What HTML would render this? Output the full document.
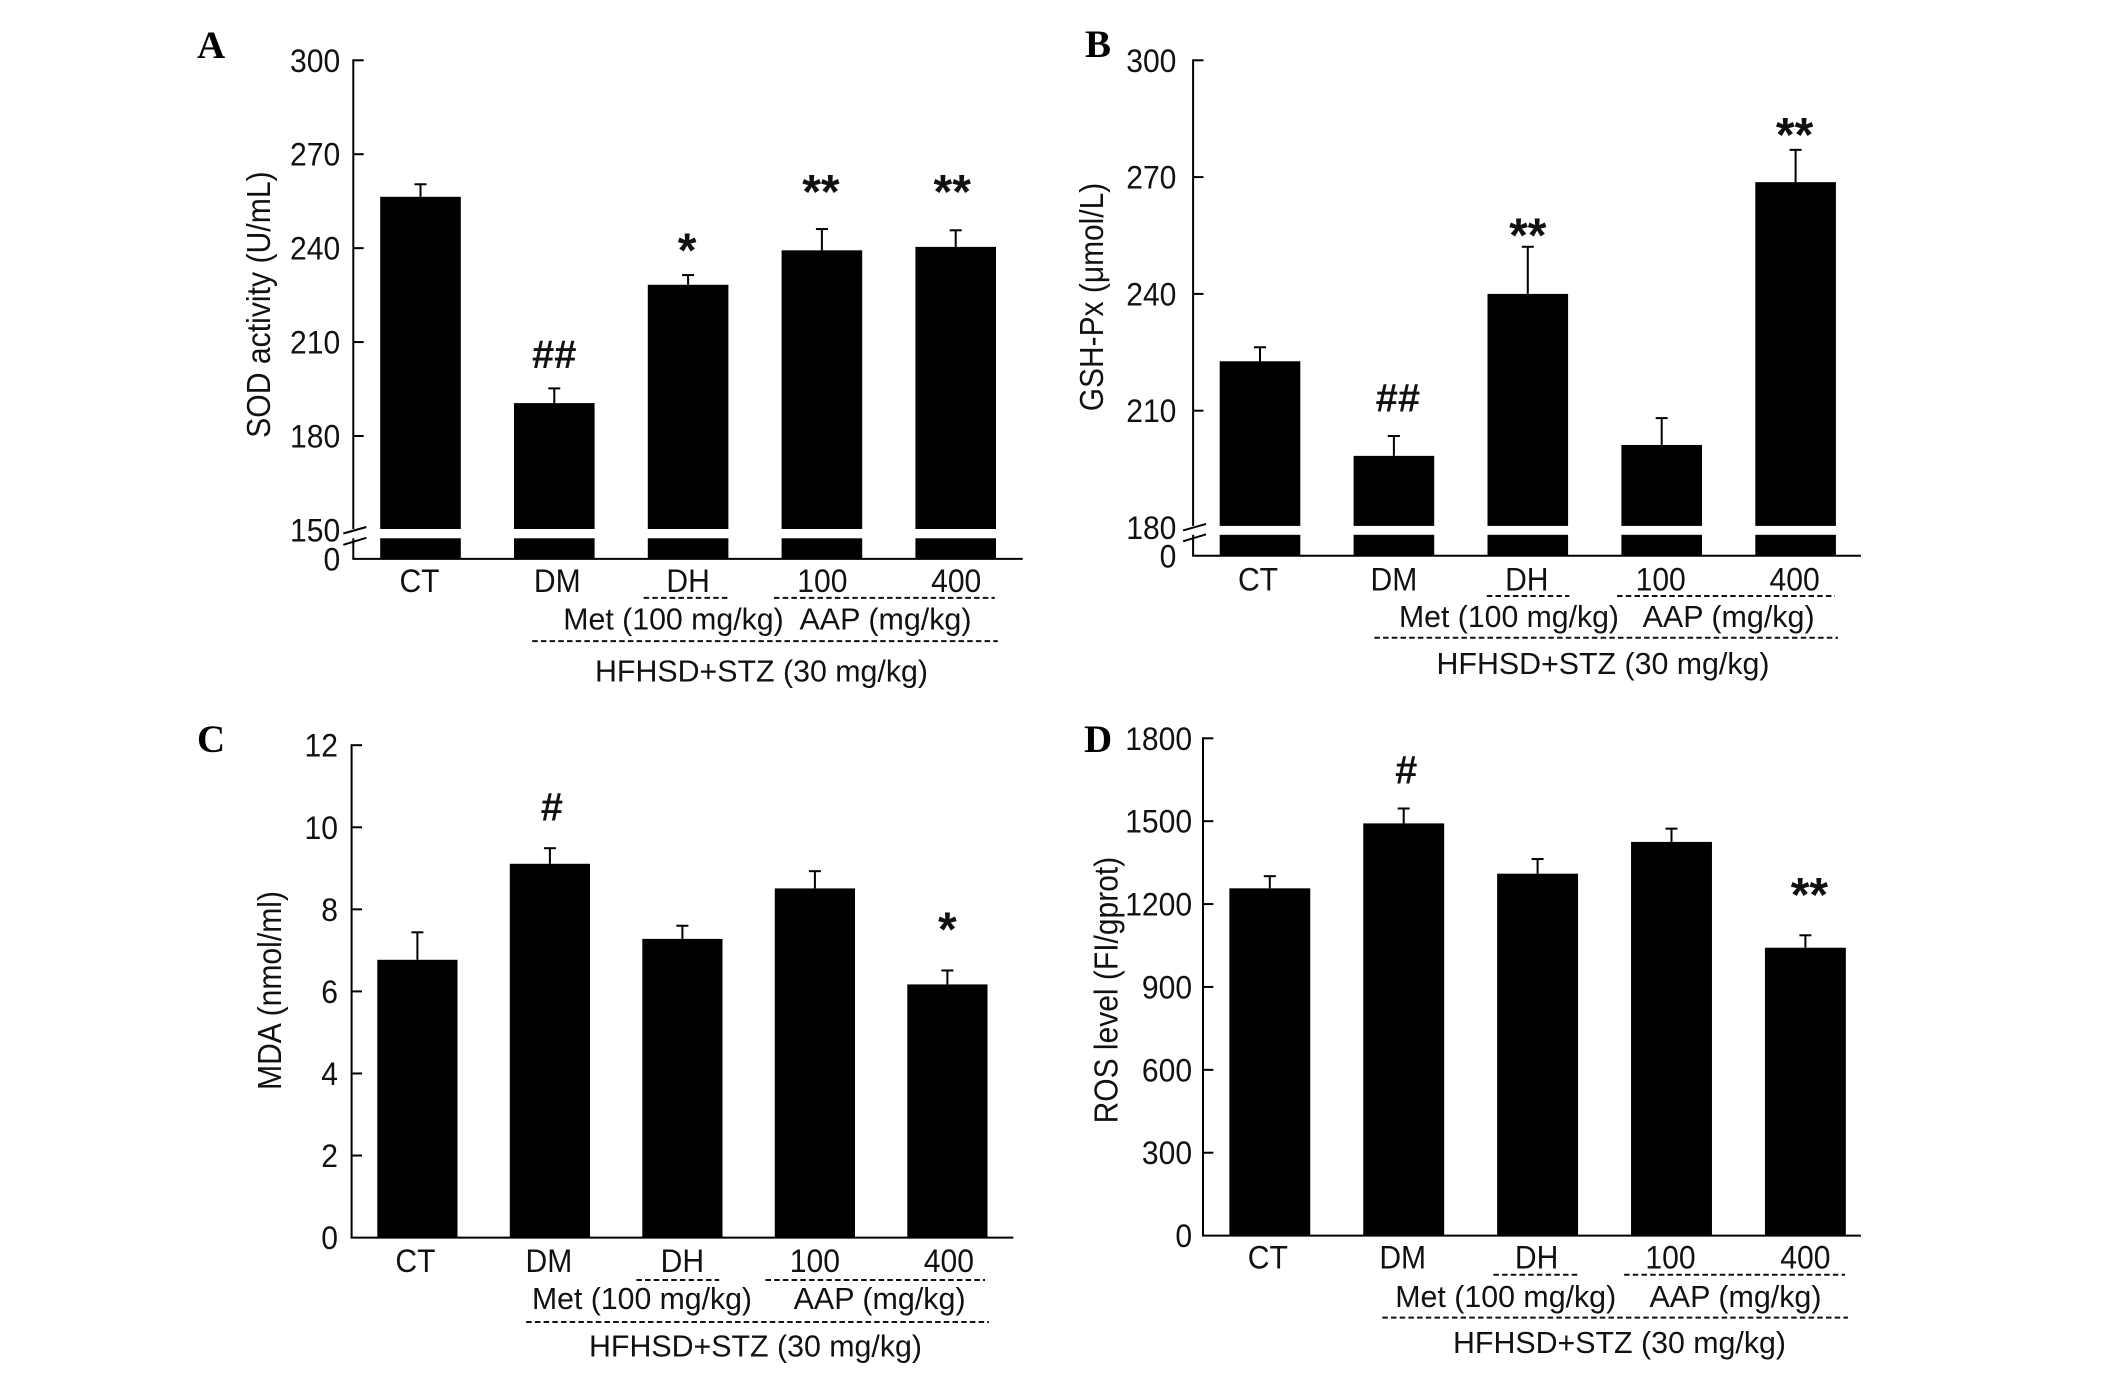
<!DOCTYPE html>
<html lang="en">
<head>
<meta charset="utf-8">
<title>Antioxidant markers bar charts</title>
<style>
html,body{margin:0;padding:0;background:#fff;}
svg{display:block;}
text{font-family:"Liberation Sans",sans-serif;fill:#111;}
.letter{font-family:"Liberation Serif",serif;font-weight:bold;font-size:39px;fill:#000;}
.title{font-size:33px;text-anchor:middle;}
.group{font-size:31px;text-anchor:middle;}
.dash{stroke:#111;stroke-width:2;stroke-dasharray:5.5 3.2;fill:none;}
</style>
</head>
<body>
<svg id="figure" width="2126" height="1374" viewBox="0 0 2126 1374" xmlns="http://www.w3.org/2000/svg">
  <rect width="2126" height="1374" fill="#fff"/>

  <g id="panel-a">
    <text class="letter" x="197" y="58">A</text>
    <text class="title" transform="translate(270 304.6) rotate(-90)" textLength="266.5" lengthAdjust="spacingAndGlyphs">SOD activity (U/mL)</text>
    <line class="dash" x1="643.6" x2="728.2" y1="597.9" y2="597.9"/>
    <line class="dash" x1="774" x2="994.8" y1="597.9" y2="597.9"/>
    <text class="group" x="673.5" y="629.5" textLength="220.5" lengthAdjust="spacingAndGlyphs">Met (100 mg/kg)</text>
    <text class="group" x="885.5" y="629.5" textLength="172" lengthAdjust="spacingAndGlyphs">AAP (mg/kg)</text>
    <line class="dash" x1="532.2" x2="997.8" y1="641.1" y2="641.1"/>
    <text class="group" x="761.5" y="681.5" textLength="333" lengthAdjust="spacingAndGlyphs">HFHSD+STZ (30 mg/kg)</text>
  </g>

  <g id="panel-b">
    <text class="letter" x="1085" y="57">B</text>
    <text class="title" transform="translate(1102.8 297) rotate(-90)" textLength="228.5" lengthAdjust="spacingAndGlyphs">GSH-Px (μmol/L)</text>
    <line class="dash" x1="1486.8" x2="1569.4" y1="596" y2="596"/>
    <line class="dash" x1="1617.1" x2="1835" y1="596" y2="596"/>
    <text class="group" x="1509" y="627.2" textLength="220" lengthAdjust="spacingAndGlyphs">Met (100 mg/kg)</text>
    <text class="group" x="1728.6" y="627.2" textLength="172" lengthAdjust="spacingAndGlyphs">AAP (mg/kg)</text>
    <line class="dash" x1="1374.4" x2="1838" y1="637.7" y2="637.7"/>
    <text class="group" x="1603" y="674" textLength="333" lengthAdjust="spacingAndGlyphs">HFHSD+STZ (30 mg/kg)</text>
  </g>

  <g id="panel-c">
    <text class="letter" x="197" y="752">C</text>
    <text class="title" transform="translate(281 990.5) rotate(-90)" textLength="199" lengthAdjust="spacingAndGlyphs">MDA (nmol/ml)</text>
    <line class="dash" x1="636.4" x2="719.2" y1="1280" y2="1280"/>
    <line class="dash" x1="765.5" x2="985" y1="1280" y2="1280"/>
    <text class="group" x="642" y="1309" textLength="220" lengthAdjust="spacingAndGlyphs">Met (100 mg/kg)</text>
    <text class="group" x="879.6" y="1309" textLength="172" lengthAdjust="spacingAndGlyphs">AAP (mg/kg)</text>
    <line class="dash" x1="526.2" x2="989" y1="1322" y2="1322"/>
    <text class="group" x="755.5" y="1356.6" textLength="333" lengthAdjust="spacingAndGlyphs">HFHSD+STZ (30 mg/kg)</text>
  </g>

  <g id="panel-d">
    <text class="letter" x="1084" y="752">D</text>
    <text class="title" transform="translate(1117.4 990.1) rotate(-90)" textLength="266.6" lengthAdjust="spacingAndGlyphs">ROS level (FI/gprot)</text>
    <line class="dash" x1="1493.4" x2="1578" y1="1274.7" y2="1274.7"/>
    <line class="dash" x1="1624.1" x2="1845" y1="1274.7" y2="1274.7"/>
    <text class="group" x="1505.7" y="1306.8" textLength="221" lengthAdjust="spacingAndGlyphs">Met (100 mg/kg)</text>
    <text class="group" x="1735.5" y="1306.8" textLength="172" lengthAdjust="spacingAndGlyphs">AAP (mg/kg)</text>
    <line class="dash" x1="1382.3" x2="1848" y1="1317.6" y2="1317.6"/>
    <text class="group" x="1619.5" y="1353.2" textLength="333" lengthAdjust="spacingAndGlyphs">HFHSD+STZ (30 mg/kg)</text>
  </g>
</svg>

<script>
// Chart data
const categories = ['CT', 'DM', 'DH', '100', '400'];

const sodValues = [256.4, 190.5, 228.3, 239.3, 240.4];
const sodErrorTops = [260.4, 195.2, 231.4, 246.1, 245.7];
const sodTicks = [0, 150, 180, 210, 240, 270, 300];
const sodMarks = ['', '##', '*', '**', '**'];
const sodMarkLevels = [0, 201.7, 238.9, 257.6, 257.6];

const gshValues = [222.7, 198.4, 240, 201.2, 268.7];
const gshErrorTops = [226.3, 203.5, 252.1, 208.1, 277];
const gshTicks = [0, 180, 210, 240, 270, 300];
const gshMarks = ['', '##', '**', '', '**'];
const gshMarkLevels = [0, 209.8, 254.7, 0, 280.5];

const mdaValues = [6.77, 9.11, 7.28, 8.51, 6.17];
const mdaErrorTops = [7.44, 9.49, 7.6, 8.93, 6.51];
const mdaTicks = [0, 2, 4, 6, 8, 10, 12];
const mdaMarks = ['', '#', '', '', '*'];
const mdaMarkLevels = [0, 10.17, 0, 0, 7.48];

const rosValues = [1257, 1492, 1310, 1425, 1042];
const rosErrorTops = [1301, 1546, 1363, 1473, 1087];
const rosTicks = [0, 300, 600, 900, 1200, 1500, 1800];
const rosMarks = ['', '#', '', '', '**'];
const rosMarkLevels = [0, 1636, 0, 0, 1228];

// Panel geometry (separate from the data)
const panels = [
  {
    group: 'panel-a', key: 'sod', values: sodValues, errorTops: sodErrorTops, ticks: sodTicks, marks: sodMarks, levels: sodMarkLevels,
    axisX: 353.3, axisEnd: 1022.7, baseline: 558.9, labelRight: 340.2,
    domainMin: 150, domainMax: 300, pxMin: 529.9, pxMax: 60.3, breakHigh: 529, breakLow: 538.3,
    firstCenter: 420.5, step: 133.8, barWidth: 80.6,
    labelBaseline: 592, labelNudge: [-1, 3, 0, 0.5, 0.5], markNudge: [0, 0, -1, -1, -3.5]
  },
  {
    group: 'panel-b', key: 'gsh-px', values: gshValues, errorTops: gshErrorTops, ticks: gshTicks, marks: gshMarks, levels: gshMarkLevels,
    axisX: 1193.1, axisEnd: 1860.9, baseline: 555.8, labelRight: 1176.4,
    domainMin: 180, domainMax: 300, pxMin: 527.5, pxMax: 60.3, breakHigh: 525.9, breakLow: 534.8,
    firstCenter: 1260, step: 133.9, barWidth: 80.6,
    labelBaseline: 590.5, labelNudge: [-2, 0, -1, -1, -1], markNudge: [0, 4, 0, 0, -1]
  },
  {
    group: 'panel-c', key: 'mda', values: mdaValues, errorTops: mdaErrorTops, ticks: mdaTicks, marks: mdaMarks, levels: mdaMarkLevels,
    axisX: 351.6, axisEnd: 1013.4, baseline: 1237.6, labelRight: 338,
    domainMin: 0, domainMax: 12, pxMin: 1237.6, pxMax: 745.2, breakHigh: null, breakLow: null,
    firstCenter: 417.4, step: 132.5, barWidth: 80.2,
    labelBaseline: 1272, labelNudge: [-2, -1, 0, 0, 1.5], markNudge: [0, 2, 0, 0, 0]
  },
  {
    group: 'panel-d', key: 'ros', values: rosValues, errorTops: rosErrorTops, ticks: rosTicks, marks: rosMarks, levels: rosMarkLevels,
    axisX: 1203, axisEnd: 1860.9, baseline: 1235.6, labelRight: 1192.1,
    domainMin: 0, domainMax: 1800, pxMin: 1235.6, pxMax: 738.3, breakHigh: null, breakLow: null,
    firstCenter: 1269.8, step: 133.9, barWidth: 80.9,
    labelBaseline: 1268.3, labelNudge: [-2, -1, -1, -1, 0], markNudge: [0, 2.5, 0, 0, 4]
  }
];

const SVG_NS = 'http://www.w3.org/2000/svg';
const INK = '#000';
const TICK_LEN = 10.4;
const CAP_HALF = 6;

function shape(parent, tag, props) {
  const el = document.createElementNS(SVG_NS, tag);
  Object.keys(props).forEach(function (k) { el.setAttribute(k, props[k]); });
  parent.appendChild(el);
  return el;
}

function stroke(parent, x1, y1, x2, y2) {
  return shape(parent, 'line', { x1: x1, y1: y1, x2: x2, y2: y2, stroke: INK, 'stroke-width': 2 });
}

function label(parent, x, y, str, anchor, size, weight, squeeze) {
  const el = shape(parent, 'text', {
    transform: 'translate(' + x + ' ' + y + ') scale(' + squeeze + ' 1)',
    'text-anchor': anchor,
    'font-size': size,
    'font-weight': weight
  });
  el.textContent = str;
  return el;
}

function drawPanel(p) {
  const root = document.getElementById(p.group);
  const broken = p.breakHigh !== null;

  const yScale = function (v) {
    if (v < p.domainMin) return p.baseline;
    return p.pxMin + (v - p.domainMin) / (p.domainMax - p.domainMin) * (p.pxMax - p.pxMin);
  };
  const xScale = function (i) { return p.firstCenter + p.step * i; };

  // bars and error bars
  categories.forEach(function (cat, i) {
    const cx = xScale(i);
    const left = cx - p.barWidth / 2;
    const top = yScale(p.values[i]);
    const upperBottom = broken ? p.breakHigh : p.baseline;

    const bar = shape(root, 'rect', { x: left, y: top, width: p.barWidth, height: upperBottom - top, fill: INK });
    
    

    if (broken) {
      const stub = shape(root, 'rect', { x: left, y: p.breakLow, width: p.barWidth, height: p.baseline - p.breakLow, fill: INK });
      
      
    }

    const errTop = yScale(p.errorTops[i]);
    const whisker = stroke(root, cx, top, cx, errTop);
    
    

    const cap = stroke(root, cx - CAP_HALF, errTop, cx + CAP_HALF, errTop);
    
    

    const catLabel = label(root, cx + p.labelNudge[i], p.labelBaseline, cat, 'middle', 32, 'normal', 0.94);
    
    

    const mark = p.marks[i];
    if (mark) {
      const isStar = mark.charAt(0) === '*';
      const size = isStar ? 48 : 40;
      const base = yScale(p.levels[i]) + (isStar ? size * 0.31 : 0);
      const markEl = label(root, cx + p.markNudge[i], base, mark, 'middle', size, 'bold', 1);
      
      
    }
  });

  // axes
  const axisTop = yScale(p.domainMax);
  if (broken) {
    const upper = stroke(root, p.axisX, axisTop - 1, p.axisX, p.breakHigh);
    
    

    const lower = stroke(root, p.axisX, p.breakLow, p.axisX, p.baseline);
    
    

    const slashA = stroke(root, p.axisX - 10, p.breakHigh + 4.5, p.axisX + 13, p.breakHigh - 2);
    
    

    const slashB = stroke(root, p.axisX - 10, p.breakLow + 6.5, p.axisX + 13, p.breakLow - 0.5);
    
    
  } else {
    const axis = stroke(root, p.axisX, axisTop - 1, p.axisX, p.baseline);
    
    
  }

  const xAxis = stroke(root, p.axisX - 1, p.baseline, p.axisEnd, p.baseline);
  
  

  // ticks
  p.ticks.forEach(function (t) {
    const y = yScale(t);
    if (t > p.domainMin) {
      const tick = stroke(root, p.axisX, y, p.axisX + TICK_LEN, y);
      
      
    }
    const tickLabel = label(root, p.labelRight, y + 11.5, String(t), 'end', 32, 'normal', 0.94);
    
    
  });
}

panels.forEach(drawPanel);
</script>
</body>
</html>
